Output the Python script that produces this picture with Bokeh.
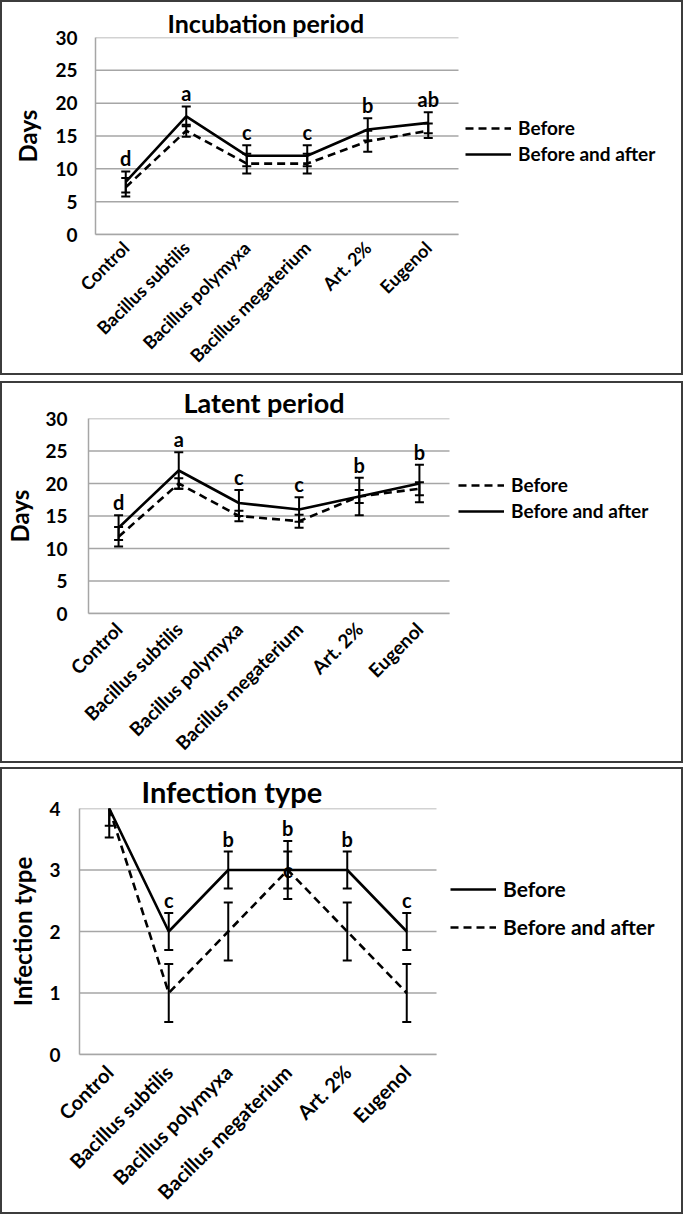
from math import pi
from bokeh.plotting import figure
from bokeh.models import (ColumnDataSource, Range1d, FixedTicker,
                          Legend, LegendItem, LabelSet, Spacer)
from bokeh.layouts import column, row
from bokeh.core.properties import value
from bokeh.embed import file_html
from bokeh.resources import INLINE

FONT = "Lato"

categories = ["Control", "Bacillus subtilis", "Bacillus polymyxa",
              "Bacillus megaterium", "Art. 2%", "Eugenol"]

# Incubation period (days)
inc_before = [7.2, 15.8, 10.8, 10.8, 14.2, 15.8]
inc_before_err = [1.4, 0.9, 1.5, 1.5, 1.6, 1.1]
inc_both = [8.0, 18.0, 12.0, 12.0, 16.0, 17.0]
inc_both_err = [1.6, 1.5, 1.6, 1.6, 1.7, 1.6]
inc_letters = ["d", "a", "c", "c", "b", "ab"]

# Latent period (days)
lat_before = [11.8, 20.0, 15.0, 14.2, 18.0, 19.2]
lat_before_err = [1.5, 0.8, 0.8, 1.0, 1.0, 1.0]
lat_both = [13.2, 22.0, 17.0, 16.0, 18.0, 20.0]
lat_both_err = [1.9, 2.8, 2.0, 1.9, 2.9, 2.9]
lat_letters = ["d", "a", "c", "c", "b", "b"]

# Infection type
inf_before = [4, 2, 3, 3, 3, 2]
inf_before_err = [0.28, 0.3, 0.3, 0.3, 0.3, 0.3]
inf_both = [4, 1, 2, 3, 2, 1]
inf_both_err = [0.47, 0.47, 0.47, 0.47, 0.47, 0.47]
inf_letters = ["a", "c", "b", "b", "b", "c"]
inf_letters2 = ["", "", "", "c", "", ""]

N = len(categories)
XPOS = [i + 0.5 for i in range(N)]
FIG_W = 683


def panel(title, ylabel, ymax, step, series, letters, *, height, frame_left,
          cat_right, frame_right, top, bottom, title_size, title_offset,
          ylabel_size, tick_standoff, label_standoff, xlabel_size,
          xlabel_standoff, legend_xy, legend_spacing, legend_size,
          letters2=None, letters2_vals=None):
    x_end = N * (frame_right - frame_left) / (cat_right - frame_left)
    p = figure(x_range=Range1d(0, x_end), y_range=Range1d(0, ymax),
               width=FIG_W, height=height,
               output_backend="svg", toolbar_location=None,
               min_border_left=frame_left, min_border_right=FIG_W - frame_right,
               min_border_top=top, min_border_bottom=bottom)
    p.styles = {"border": "2px solid #3c3c3c", "box-sizing": "border-box"}
    p.outline_line_color = None
    p.title.text = title
    p.title.align = "left"
    p.title.offset = title_offset
    p.title.text_font = FONT
    p.title.text_font_style = "bold"
    p.title.text_font_size = title_size
    p.title.text_color = "black"
    p.title.standoff = 0

    p.xgrid.grid_line_color = None
    p.ygrid.grid_line_color = None
    yticks = list(range(0, ymax + 1, step))
    p.segment(x0=[0] * len(yticks), x1=[N] * len(yticks), y0=yticks,
              y1=yticks, line_color="#a6a6a6", line_width=1.5,
              level="underlay")

    p.yaxis.ticker = FixedTicker(ticks=yticks)
    p.xaxis.ticker = FixedTicker(ticks=XPOS)
    p.xaxis.major_label_overrides = {x: c for x, c in zip(XPOS, categories)}
    p.xaxis.bounds = (0, N)
    for ax in (p.xaxis[0], p.yaxis[0]):
        ax.axis_line_color = "#a6a6a6"
        ax.axis_line_width = 1.5
        ax.major_tick_line_color = None
        ax.minor_tick_line_color = None
        ax.major_tick_out = 0
        ax.major_tick_in = 0
        ax.minor_tick_out = 0
        ax.minor_tick_in = 0
        ax.major_label_text_font = FONT
        ax.major_label_text_font_style = "bold"
        ax.major_label_text_color = "black"
    p.xaxis.major_label_text_font_size = xlabel_size
    p.yaxis.major_label_text_font_size = "19px"
    p.xaxis.major_label_orientation = pi / 4
    p.xaxis.major_label_standoff = xlabel_standoff
    p.yaxis.major_label_standoff = tick_standoff
    p.yaxis.axis_label = ylabel
    p.yaxis.axis_label_text_font = FONT
    p.yaxis.axis_label_text_font_style = "bold"
    p.yaxis.axis_label_text_font_size = ylabel_size
    p.yaxis.axis_label_text_color = "black"
    p.yaxis.axis_label_standoff = label_standoff

    items = []
    tops = [0] * N
    for label, vals, errs, dash in series:
        lo = [v - e for v, e in zip(vals, errs)]
        hi = [v + e for v, e in zip(vals, errs)]
        tops = [max(t, h) for t, h in zip(tops, hi)]
        src = ColumnDataSource(dict(x=XPOS, y=vals, lo=lo, hi=hi))
        r = p.line("x", "y", source=src, line_color="black", line_width=2.6,
                   line_dash=dash)
        p.segment(x0="x", y0="lo", x1="x", y1="hi", source=src,
                  line_color="black", line_width=2)
        for col in ("lo", "hi"):
            p.scatter(x="x", y=col, source=src, marker="dash", size=9,
                      line_color="black", line_width=2)
        items.append(LegendItem(label=label, renderers=[r]))

    ly = [min(t, ymax) for t in tops]
    lsrc = ColumnDataSource(dict(x=XPOS, y=ly, t=letters))
    p.add_layout(LabelSet(x="x", y="y", text="t", source=lsrc,
                          text_align="center", text_baseline="bottom",
                          y_offset=1, text_font=value(FONT),
                          text_font_style="bold", text_font_size="20px",
                          text_color="black"))
    if letters2 is not None:
        l2 = ColumnDataSource(dict(x=XPOS, y=letters2_vals, t=letters2))
        p.add_layout(LabelSet(x="x", y="y", text="t", source=l2,
                              text_align="center", text_baseline="middle",
                              text_font=value(FONT), text_font_style="bold",
                              text_font_size="20px", text_color="black"))

    leg = Legend(items=items, location=legend_xy, orientation="vertical",
                 label_text_font=FONT, label_text_font_style="bold",
                 label_text_font_size=legend_size, label_text_color="black",
                 glyph_width=46, glyph_height=20, label_height=20,
                 label_standoff=7, spacing=legend_spacing, padding=0, margin=0,
                 border_line_color=None, background_fill_alpha=0)
    p.add_layout(leg)
    return p


p1 = panel("Incubation period", "Days", 30, 5,
           [("Before", inc_before, inc_before_err, "8 5"),
            ("Before and after", inc_both, inc_both_err, "solid")],
           inc_letters, height=375, frame_left=93, cat_right=456,
           frame_right=676, top=35, bottom=142,
           title_size="25px", title_offset=72, ylabel_size="24px",
           tick_standoff=18, label_standoff=10, xlabel_size="18px",
           xlabel_standoff=10,
           legend_xy=(370, 69), legend_spacing=3, legend_size="19px")

p2 = panel("Latent period", "Days", 30, 5,
           [("Before", lat_before, lat_before_err, "8 5"),
            ("Before and after", lat_both, lat_both_err, "solid")],
           lat_letters, height=382, frame_left=86, cat_right=447,
           frame_right=676, top=35, bottom=149,
           title_size="27px", title_offset=95, ylabel_size="24px",
           tick_standoff=21, label_standoff=8, xlabel_size="19px",
           xlabel_standoff=12,
           legend_xy=(370, 91), legend_spacing=3, legend_size="19px")

p3 = panel("Infection type", "Infection type", 4, 1,
           [("Before", inf_before, inf_before_err, "solid"),
            ("Before and after", inf_both, inf_both_err, "8 5")],
           inf_letters, height=447, frame_left=77, cat_right=434,
           frame_right=676, top=39, bottom=162,
           title_size="29px", title_offset=62, ylabel_size="24px",
           tick_standoff=19, label_standoff=9, xlabel_size="20px",
           xlabel_standoff=14,
           legend_xy=(371, 115), legend_spacing=13, legend_size="21px",
           letters2=inf_letters2, letters2_vals=inf_both)

layout = column(row(p1), Spacer(height=6), row(p2), Spacer(height=4), row(p3))

with open("out.html", "w") as f:
    f.write(file_html(layout, INLINE))
